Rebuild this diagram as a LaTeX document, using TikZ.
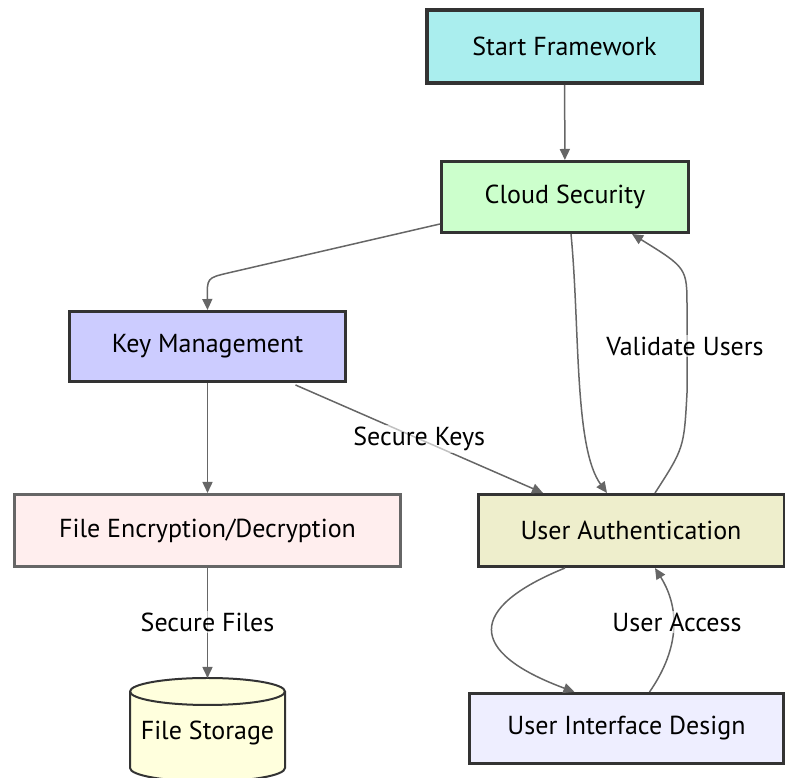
\documentclass[tikz,border=0pt]{standalone}
\usepackage{fontspec}
\setmainfont{PT Sans}
\usepackage{tikz}
\usetikzlibrary{positioning}
\usetikzlibrary{arrows.meta}
\usetikzlibrary{calc}

\definecolor{startfill}{HTML}{AAEEEE}
\definecolor{cloudfill}{HTML}{CCFFCC}
\definecolor{keyfill}{HTML}{CCCCFF}
\definecolor{encfill}{HTML}{FFEEEE}
\definecolor{authfill}{HTML}{EEEECC}
\definecolor{storefill}{HTML}{FFFFDD}
\definecolor{uifill}{HTML}{EEEEFF}
\definecolor{boxline}{HTML}{333333}
\definecolor{linkgray}{HTML}{666666}

\begin{document}
\begin{tikzpicture}[x=1pt, y=1pt,
		box/.style={draw=boxline, line width=3pt, inner sep=0pt, font=\fontsize{26}{30}\selectfont},
		link/.style={draw=linkgray, line width=1.5pt, -{Triangle[length=11pt,width=10pt]}},
		tag/.style={fill=white, fill opacity=0.6, text opacity=1, inner sep=2pt, font=\fontsize{26}{30}\selectfont}]
		\useasboundingbox (0,0) rectangle (785,778);

		% Process boxes
		\node[box, fill=startfill, line width=4pt, minimum width=275pt, minimum height=73pt] (start) at (564.5,731.5) {Start Framework};
		\node[box, fill=cloudfill, minimum width=247pt, minimum height=71pt] (cloud) at (565,581) {Cloud Security};
		\node[box, fill=keyfill, minimum width=276pt, minimum height=70pt] (keys) at (207.5,431.5) {Key Management};
		\node[box, draw=linkgray, fill=encfill, minimum width=386pt, minimum height=72pt] (crypt) at (207.5,247.5) {File Encryption/Decryption};
		\node[box, fill=authfill, minimum width=306pt, minimum height=72pt] (auth) at (631,247.5) {User Authentication};
		\node[box, fill=uifill, minimum width=314pt, minimum height=70pt] (ui) at (626.5,49.5) {User Interface Design};

		% Storage drum
		\path[fill=storefill, draw=boxline, line width=2pt] (130,86.5) -- (130,10)
			arc[start angle=180, end angle=360, x radius=77.5, y radius=13.5] -- (285,86.5)
			arc[start angle=0, end angle=180, x radius=77.5, y radius=13.5] -- cycle;
		\draw[boxline, line width=2pt] (130,86.5) arc[start angle=180, end angle=360, x radius=77.5, y radius=13.5];
		\node[font=\fontsize{26}{30}\selectfont, minimum width=155pt, minimum height=100pt] (store) at (207.5,45) {File Storage};
		\coordinate (storetop) at (207.5,100);

		% Straight links
		\draw[link] (start) -- (cloud);
		\draw[link] (keys) -- (crypt);
		\draw[link] (crypt) -- (storetop) node[tag, midway, yshift=1pt] {Secure Files};
		\draw[link] ($(keys.south)+(88,-2)$) -- ($(auth.north)+(-88,0)$) node[tag, midway] {Secure Keys};

		% Curved links
		\draw[link] ($(cloud.south west)+(0,10)$) -- (228,505) .. controls (207,500) .. (keys.north);
		\draw[link] ($(cloud.south)+(6,0)$) .. controls (580,450) and (574,330) .. ($(auth.north)+(-24,0)$);
		\draw[link] ($(auth.north)+(24,0)$) .. controls (684,330) .. (687,385) -- (687,470)
			.. controls (687,510) .. ($(cloud.south)+(67,0)$);
		\node[tag] (valid) at (685,432) {Validate Users};
		\draw[link] ($(auth.south)+(-66,0)$) .. controls (467,170) and (467,126) .. ($(ui.south)+(-52,73)$);
		\draw[link] ($(ui.north)+(23,0)$) .. controls (680,130) and (680,170) .. ($(auth.south)+(24,0)$);
		\node[tag] (access) at (677,156) {User Access};
	\end{tikzpicture}
\end{document}
